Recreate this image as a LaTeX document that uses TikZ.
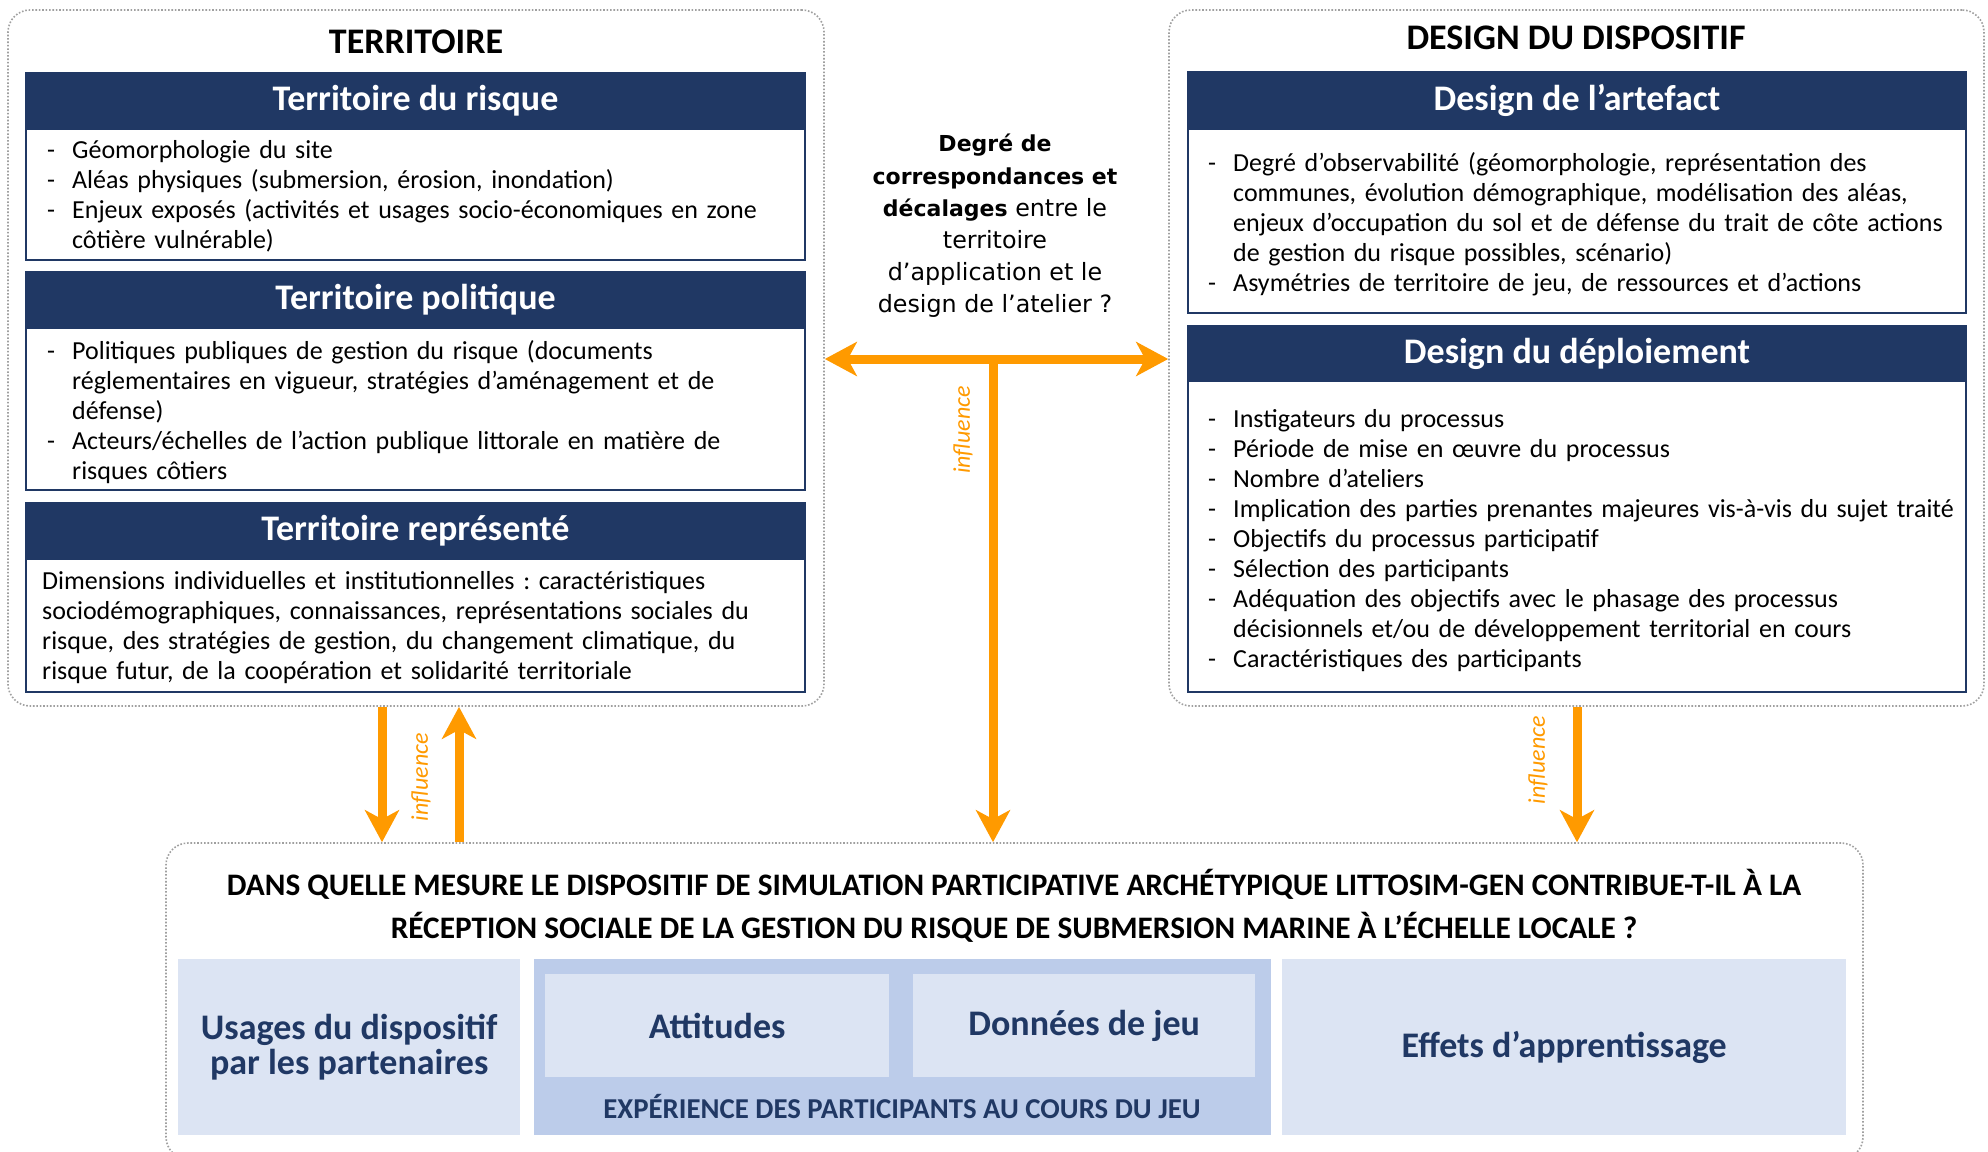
\documentclass[tikz,border=0pt]{standalone}
\usepackage{fontspec}
\setmainfont{Carlito}
\newfontfamily\verd{DejaVu Sans}
\usetikzlibrary{arrows.meta}
\frenchspacing
\definecolor{navy}{HTML}{203864}
\definecolor{orng}{HTML}{FF9A00}
\definecolor{pale}{HTML}{DCE4F3}
\definecolor{midblue}{HTML}{BCCCEA}
\definecolor{dotgray}{HTML}{A0A0A0}
\newcommand{\itm}{\par\hangindent=25pt\hangafter=1\noindent\makebox[25pt][l]{-}}
\newcommand{\vb}[1]{{\fontsize{22}{32.2}\selectfont\bfseries #1}}
\tikzset{otip/.tip={Stealth[length=32pt,width=34pt,inset=9pt]}}
\begin{document}
\begin{tikzpicture}[x=1pt,y=-1pt,
  outerbox/.style={draw=dotgray, line width=1.6pt, dash pattern=on 1.6pt off 1.8pt, rounded corners=22pt, inner sep=0pt},
  hdr/.style={fill=navy, draw=navy, line width=2pt, text=white, font=\fontsize{36}{42}\selectfont\bfseries, minimum height=56pt, inner sep=0pt, anchor=north west},
  bodyb/.style={draw=navy, line width=2pt, fill=white, inner sep=0pt, anchor=north west},
  btext/.style={anchor=west, text width=756pt, align=left, inner sep=0pt, font=\fontsize{26}{30}\selectfont\frenchspacing},
  ttl/.style={font=\fontsize{36}{42}\selectfont\bfseries, inner sep=0pt},
  panel/.style={inner sep=0pt, anchor=north west, text=navy, font=\fontsize{36}{35}\selectfont\bfseries, align=center},
  infl/.style={text=orng, font=\fontsize{24}{28}\selectfont\itshape, inner sep=0pt, rotate=90},
  oarrow/.style={draw=orng, line width=9pt}]
\useasboundingbox (0,0) rectangle (1988,1151);
\clip (0,0) rectangle (1988,1151);
\fill[white] (0,0) rectangle (1988,1151);

% outer dotted frames
\node[outerbox, minimum width=816pt, minimum height=696pt] (terr) at (416,358) {};
\node[outerbox, minimum width=815pt, minimum height=696pt] (des) at (1576.5,358) {};
\node[outerbox, minimum width=1697pt, minimum height=316pt] (q) at (1014.5,1001) {};

% titles
\node[ttl] (t1) at (416,42) {TERRITOIRE};
\node[ttl] (t2) at (1576,38) {DESIGN DU DISPOSITIF};

% left column
\node[hdr, minimum width=779pt] (h1) at (25,72) {Territoire du risque};
\node[bodyb, minimum width=779pt, minimum height=131pt] (b1) at (25,128) {};
\node[btext] (b1t) at (47,190) {%
\itm Géomorphologie du site
\itm Aléas physiques (submersion, érosion, inondation)
\itm Enjeux exposés (activités et usages socio-économiques en zone\newline côtière vulnérable)\par};

\node[hdr, minimum width=779pt] (h2) at (25,271) {Territoire politique};
\node[bodyb, minimum width=779pt, minimum height=162pt] (b2) at (25,327) {};
\node[btext] (b2t) at (47,407) {%
\itm Politiques publiques de gestion du risque (documents\newline réglementaires en vigueur, stratégies d’aménagement et de\newline défense)
\itm Acteurs/échelles de l’action publique littorale en matière de\newline risques côtiers\par};

\node[hdr, minimum width=779pt] (h3) at (25,502) {Territoire représenté};
\node[bodyb, minimum width=779pt, minimum height=133pt] (b3) at (25,558) {};
\node[btext] (b3t) at (42,628) {Dimensions individuelles et institutionnelles : caractéristiques\newline sociodémographiques, connaissances, représentations sociales du\newline risque, des stratégies de gestion, du changement climatique, du\newline risque futur, de la coopération et solidarité territoriale\par};

% right column
\node[hdr, minimum width=778pt] (h4) at (1187,71) {Design de l’artefact};
\node[bodyb, minimum width=778pt, minimum height=184pt] (b4) at (1187,128) {};
\node[btext] (b4t) at (1208,219) {%
\itm Degré d’observabilité (géomorphologie, représentation des\newline communes, évolution démographique, modélisation des aléas,\newline enjeux d’occupation du sol et de défense du trait de côte actions\newline de gestion du risque possibles, scénario)
\itm Asymétries de territoire de jeu, de ressources et d’actions\par};

\node[hdr, minimum width=778pt] (h5) at (1187,325) {Design du déploiement};
\node[bodyb, minimum width=778pt, minimum height=311pt] (b5) at (1187,380) {};
\node[btext] (b5t) at (1208,534.5) {%
\itm Instigateurs du processus
\itm Période de mise en œuvre du processus
\itm Nombre d’ateliers
\itm Implication des parties prenantes majeures vis-à-vis du sujet traité
\itm Objectifs du processus participatif
\itm Sélection des participants
\itm Adéquation des objectifs avec le phasage des processus\newline décisionnels et/ou de développement territorial en cours
\itm Caractéristiques des participants\par};

% middle question
\node[font=\verd\fontsize{23.8}{32.2}\selectfont, align=center, inner sep=0pt] (mq) at (995,226)
  {\vb{Degré de}\\ \vb{correspondances et}\\ \vb{décalages} entre le\\ territoire\\ d’application et le\\ design de l’atelier ?};

% bottom frame content
\node[font=\fontsize{31.3}{43}\selectfont\bfseries, align=center, inner sep=0pt] (qt) at (1014,905.5)
  {DANS QUELLE MESURE LE DISPOSITIF DE SIMULATION PARTICIPATIVE ARCHÉTYPIQUE LITTOSIM-GEN CONTRIBUE-T-IL À LA\\ RÉCEPTION SOCIALE DE LA GESTION DU RISQUE DE SUBMERSION MARINE À L’ÉCHELLE LOCALE ?};

\node[panel, fill=pale, minimum width=342pt, minimum height=176pt] (pu) at (178,959) {Usages du dispositif\\par les partenaires};
\node[panel, fill=midblue, minimum width=737pt, minimum height=176pt] (pm) at (534,959) {};
\node[panel, fill=pale, minimum width=344pt, minimum height=103pt] (pa) at (545,974) {Attitudes};
\node[panel, fill=pale, minimum width=342pt, minimum height=103pt] (pd) at (913,974) {Données de jeu};
\node[text=navy, font=\fontsize{28.8}{32}\selectfont\bfseries, inner sep=0pt] (pe) at (902,1106) {EXPÉRIENCE DES PARTICIPANTS AU COURS DU JEU};
\node[panel, fill=pale, minimum width=564pt, minimum height=176pt] (pf) at (1282,959) {Effets d’apprentissage};

% arrows
\coordinate (tj) at (993,359);
\coordinate (la) at (382,0);
\coordinate (lb) at (459,0);
\coordinate (ra) at (1577,0);
\draw[oarrow, otip-otip] (tj -| terr.east) -- (tj -| des.west);
\draw[oarrow, -otip] (tj) -- (tj |- q.north);
\draw[oarrow, -otip] (la |- terr.south) -- (la |- q.north);
\draw[oarrow, -otip] (lb |- q.north) -- (lb |- terr.south);
\draw[oarrow, -otip] (ra |- des.south) -- (ra |- q.north);

\node[infl] (i1) at (421,777) {influence};
\node[infl] (i2) at (963,430) {influence};
\node[infl] (i3) at (1538,760) {influence};
\end{tikzpicture}
\end{document}
